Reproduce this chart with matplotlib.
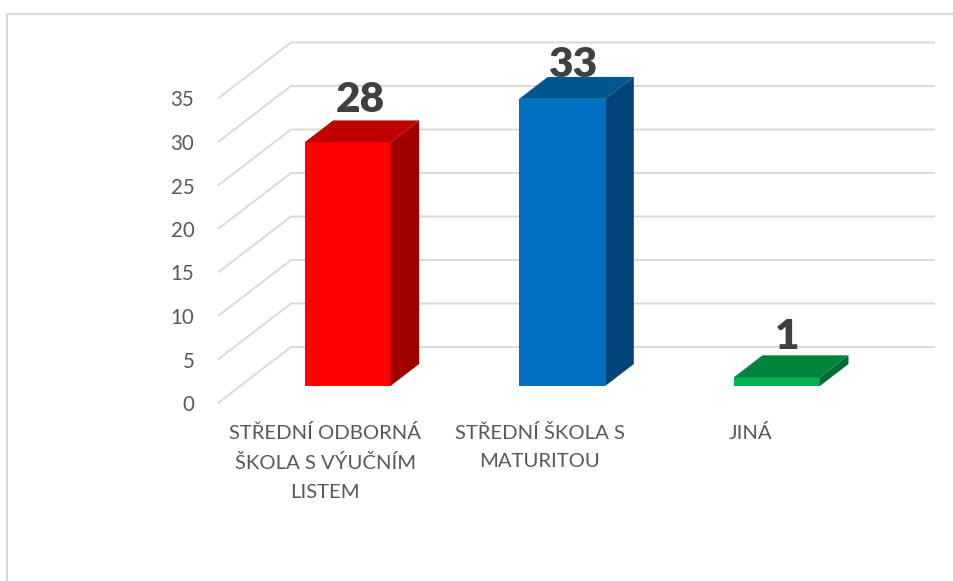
import matplotlib
matplotlib.use("Agg")
import matplotlib.pyplot as plt
from matplotlib.lines import Line2D
from matplotlib.patches import Polygon
from matplotlib.transforms import ScaledTranslation

plt.rcParams['font.family'] = ['Lato', 'DejaVu Sans']

categories = ["STŘEDNÍ ODBORNÁ\nŠKOLA S VÝUČNÍM\nLISTEM", "STŘEDNÍ ŠKOLA S\nMATURITOU", "JINÁ"]
values = [28, 33, 1]
y_ticks = [0, 5, 10, 15, 20, 25, 30, 35]
front_colors = ["#FF0000", "#0070C0", "#00B050"]
top_colors = ["#C00000", "#00568F", "#00843C"]
side_colors = ["#A00000", "#00447A", "#006C33"]
label_offsets_px = [(-1.5, 8.5), (-3, 0), (-3.5, 6.7)]

W, H = 954, 581
GRID = "#D9D9D9"
TEXT = "#595959"
LABEL = "#404040"

fig = plt.figure(figsize=(W / 100, H / 100), dpi=100, facecolor="white")
ax = fig.add_axes([218 / W, (H - 403) / H, 644 / W, 304.5 / H])
ax.set_xlim(-0.5, 2.5)
ax.set_ylim(0, 35)
ax.patch.set_alpha(0)
for s in ax.spines.values():
    s.set_visible(False)

unit_x = 644 / 3
unit_y = 304.5 / 35
wall_dx = 73 / unit_x
wall_dy = 56 / unit_y
bar_w = 86 / unit_x
f0, f1 = 0.304, 0.696

# walls / gridlines
for t in y_ticks:
    ax.plot([-0.5, -0.5 + wall_dx, 2.5 + wall_dx], [t, t + wall_dy, t + wall_dy],
            color=GRID, lw=1.4, clip_on=False, zorder=1, solid_joinstyle="miter",
            solid_capstyle="butt")

# bars
for i, v in enumerate(values):
    x0 = i + f0 * wall_dx - bar_w / 2
    x1 = x0 + bar_w
    y0 = f0 * wall_dy
    ddx = (f1 - f0) * wall_dx
    ddy = (f1 - f0) * wall_dy
    ytop = y0 + v
    ax.add_patch(Polygon([(x0, y0), (x1, y0), (x1, ytop), (x0, ytop)], closed=True,
                         fc=front_colors[i], ec="none", clip_on=False, zorder=3))
    ax.add_patch(Polygon([(x1, y0), (x1 + ddx, y0 + ddy), (x1 + ddx, ytop + ddy), (x1, ytop)], closed=True,
                         fc=side_colors[i], ec="none", clip_on=False, zorder=3))
    ax.add_patch(Polygon([(x0, ytop), (x1, ytop), (x1 + ddx, ytop + ddy), (x0 + ddx, ytop + ddy)], closed=True,
                         fc=top_colors[i], ec="none", clip_on=False, zorder=3))
    ox, oy = label_offsets_px[i]
    ax.annotate(str(v), xy=(i + f0 * wall_dx + ddx / 2, ytop + ddy),
                xytext=(ox * 0.72, oy * 0.72), textcoords="offset points",
                ha="center", va="baseline", fontsize=30.5, fontweight="heavy",
                color=LABEL, zorder=4, annotation_clip=False)

# axes ticks
ax.set_yticks(y_ticks)
ax.set_xticks(range(len(categories)))
ax.set_xticklabels(categories, fontsize=14.6, color=TEXT, linespacing=1.82)
ax.tick_params(axis="both", length=0)
ax.tick_params(axis="y", pad=17, labelsize=14.8, labelcolor=TEXT)
ax.tick_params(axis="x", pad=15)
third = ax.get_xticklabels()[2]
third.set_transform(third.get_transform() + ScaledTranslation(-4.5 / 100, 0, fig.dpi_scale_trans))

# chart frame
fig.add_artist(Line2D([7.5 / W, 7.5 / W, 1], [0, (H - 13.5) / H, (H - 13.5) / H],
                      transform=fig.transFigure, color=GRID, lw=1.5))

fig.savefig("out.png", dpi=100, facecolor="white")
